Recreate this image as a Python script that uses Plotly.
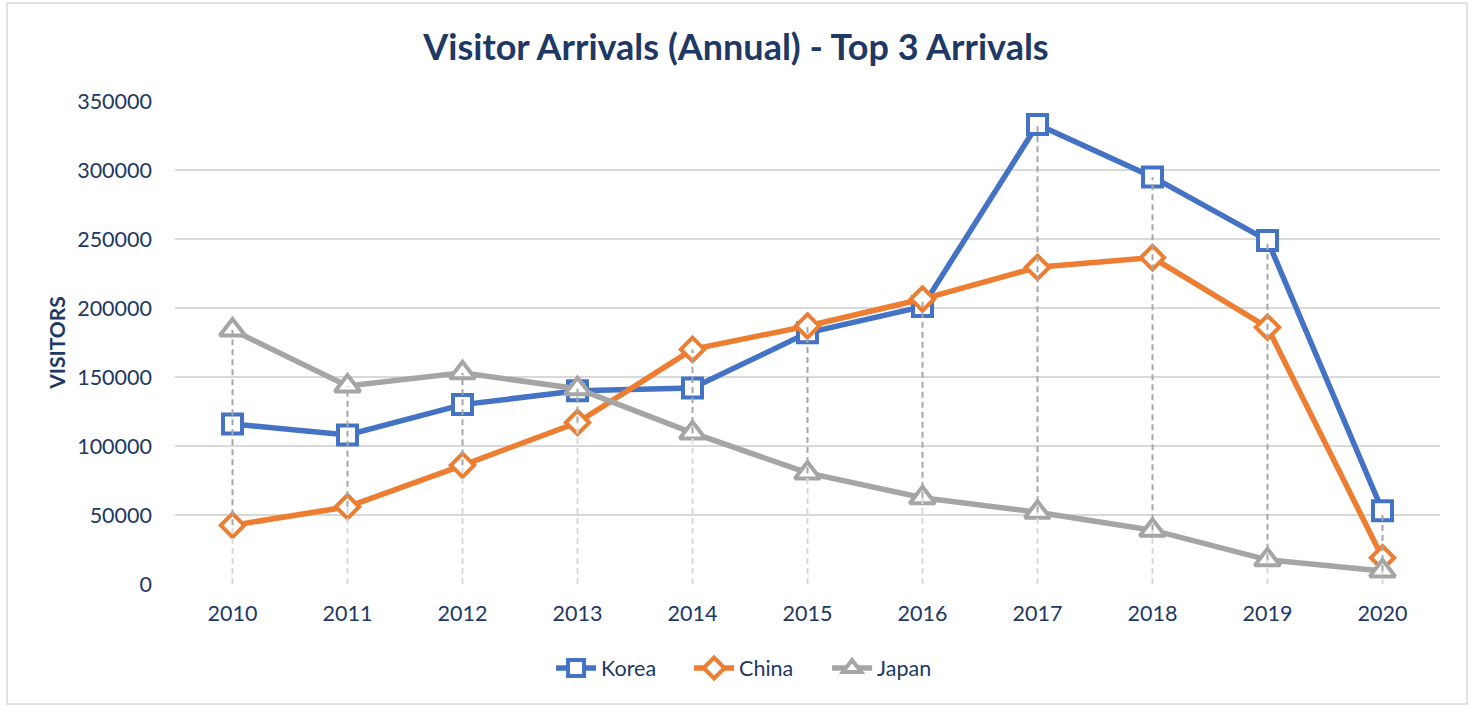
import plotly.graph_objects as go

years = ["2010", "2011", "2012", "2013", "2014", "2015", "2016", "2017", "2018", "2019", "2020"]
korea = [116000, 108000, 130000, 140000, 142000, 182000, 201000, 333000, 295000, 249000, 53000]
china = [42500, 56000, 86000, 117000, 170000, 187000, 206500, 229500, 236500, 186000, 19000]
japan = [184000, 143500, 153000, 141500, 109500, 80500, 62500, 52000, 39000, 17500, 9500]
y_ticks = [0, 50000, 100000, 150000, 200000, 250000, 300000, 350000]

NAVY = "#203864"
FONT = "Lato"

fig = go.Figure()

series = [
    ("Korea", korea, "#4472C4", "square", 19),
    ("China", china, "#ED7D31", "diamond", 18),
    ("Japan", japan, "#A5A5A5", "triangle-up", 22),
]
for name, vals, col, sym, sz in series:
    fig.add_trace(go.Scatter(
        x=years, y=vals, name=name, mode="lines+markers",
        line=dict(color=col, width=5.5),
        marker=dict(symbol=sym, size=sz, color="white", line=dict(color=col, width=4)),
    ))

# drop / high-low lines built from the data (drawn on top, as in the original)
dark_x, dark_y, light_x, light_y = [], [], [], []
for i, yr in enumerate(years):
    vals = [korea[i], china[i], japan[i]]
    lo, hi = min(vals), max(vals)
    dark_x += [yr, yr, None]
    dark_y += [lo, hi, None]
    light_x += [yr, yr, None]
    light_y += [0, lo, None]

fig.add_trace(go.Scatter(x=light_x, y=light_y, mode="lines", showlegend=False, hoverinfo="skip",
                         line=dict(color="#D9D9D9", width=2, dash="6px,4px")))
fig.add_trace(go.Scatter(x=dark_x, y=dark_y, mode="lines", showlegend=False, hoverinfo="skip",
                         line=dict(color="#A6A6A6", width=2, dash="6px,4px")))

fig.update_layout(
    width=1472, height=706,
    paper_bgcolor="white", plot_bgcolor="white",
    margin=dict(l=175, r=32, t=101, b=122),
    font=dict(family=FONT, color=NAVY, size=21),
    title=dict(text="<b>Visitor Arrivals (Annual) - Top 3 Arrivals</b>",
               x=0.5, xanchor="center", xref="container",
               y=1 - 47 / 706, yanchor="middle", yref="container",
               font=dict(family=FONT, size=36, color=NAVY)),
    xaxis=dict(type="category", range=[-0.5, 10.5], showgrid=False, zeroline=False,
               showline=False, ticks="", tickfont=dict(size=21.5, color=NAVY), ticklabelstandoff=14),
    yaxis=dict(range=[0, 350000], tickvals=y_ticks, ticktext=[str(v) for v in y_ticks],
               showgrid=True, gridcolor="#D9D9D9", gridwidth=1.5, zeroline=False,
               showline=False, ticks="", tickfont=dict(size=21.5, color=NAVY), ticklabelstandoff=22,
               title=dict(text="<b>VISITORS</b>", font=dict(size=21, color=NAVY), standoff=5)),
    legend=dict(orientation="h", xref="container", yref="container", x=0.515, xanchor="center",
                y=1 - 668 / 706, yanchor="middle", font=dict(size=21.5, color=NAVY),
                itemwidth=40, traceorder="normal", entrywidth=83, entrywidthmode="pixels"),
    shapes=[dict(type="rect", xref="paper", yref="paper",
                 x0=(7 - 175) / 1265, x1=(1467 - 175) / 1265,
                 y0=(584 - 704) / 483, y1=(584 - 3) / 483,
                 line=dict(color="#D9D9D9", width=1.5), fillcolor="rgba(0,0,0,0)", layer="below")],
)

fig.write_html("out.html", post_script="document.body.style.margin='0';",
               config={"displayModeBar": False})
